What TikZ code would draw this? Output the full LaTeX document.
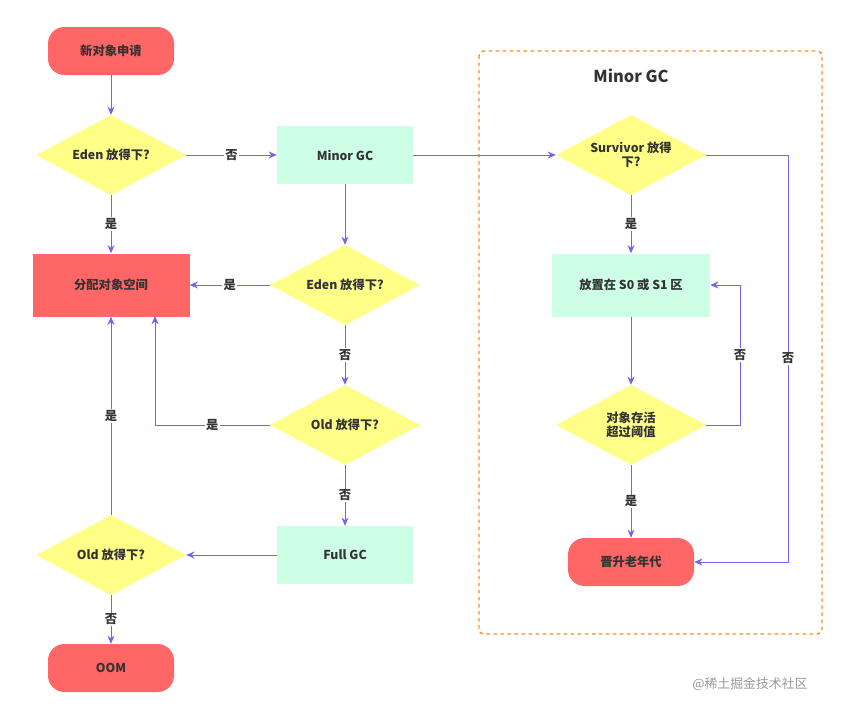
\documentclass[tikz,border=0pt]{standalone}
\usepackage{fontspec}
\setmainfont{Noto Sans CJK SC}
\usetikzlibrary{shapes.geometric, arrows.meta, positioning}

\definecolor{redbox}{HTML}{FF6666}
\definecolor{mint}{HTML}{CCFFE6}
\definecolor{yell}{HTML}{FFFF88}
\definecolor{arr}{HTML}{6E66F0}
\definecolor{orng}{HTML}{FF8C1A}

\tikzset{
    startbox/.style={rectangle, rounded corners=14pt, fill=redbox, minimum width=126*0.03cm, minimum height=48*0.03cm},
    allocbox/.style={rectangle, fill=redbox, minimum width=157*0.03cm, minimum height=63*0.03cm},
    gcbox/.style={rectangle, fill=mint, minimum width=136*0.03cm, minimum height=58*0.03cm},
    askbox/.style={diamond, fill=yell, aspect=1.875, minimum width=150*0.03cm, minimum height=80*0.03cm, inner sep=0pt, align=center},
    flow/.style={draw=arr, thick, -{Stealth[length=7pt,width=6pt]}},
    lab/.style={fill=white, inner sep=1pt}
}

\begin{document}
\begin{tikzpicture}[x=0.03cm, y=-0.03cm, font=\fontsize{10.5}{12}\selectfont\bfseries, text=black!80]
        \useasboundingbox (0,0) rectangle (848,714);

        % left column
        \node[startbox] (start) at (111,51) {新对象申请};
        \node[askbox] (eden) at (111,155) {Eden 放得下?};
        \node[gcbox] (minor) at (345,155) {Minor GC};
        \node[allocbox] (alloc) at (111,285) {分配对象空间};
        \node[askbox] (edenb) at (345,285) {Eden 放得下?};
        \node[askbox] (old) at (345,425) {Old 放得下?};
        \node[gcbox] (full) at (345,555) {Full GC};
        \node[askbox] (oldb) at (111,555) {Old 放得下?};
        \node[startbox] (oom) at (111,668) {OOM};

        % minor gc frame
        \draw[orng, very thick, dashed, rounded corners=4pt] (479,51) rectangle (822,634);
        \node[font=\fontsize{14}{16}\selectfont\bfseries] (title) at (631,76) {Minor GC};
        \node[askbox] (surv) at (631,155) {Survivor 放得\\下?};
        \node[gcbox, minimum width=158*0.03cm, minimum height=63*0.03cm] (place) at (631,285) {放置在 S0 或 S1 区};
        \node[askbox] (age) at (631,425) {对象存活\\超过阈值};
        \node[startbox] (promo) at (631,562) {晋升老年代};

        \coordinate (oldturn) at (155,425);
        \coordinate (alloctwo) at (155,316);
        \coordinate (survturn) at (788,155);
        \coordinate (survdown) at (788,562);
        \coordinate (ageturn) at (740,425);
        \coordinate (ageup) at (740,285);

        \draw[flow] (start) -- (eden);
        \draw[flow] (eden) -- node[lab] {否} (minor);
        \draw[flow] (eden) -- node[lab] {是} (alloc);
        \draw[flow] (minor) -- (edenb);
        \draw[flow] (edenb) -- node[lab] {是} (alloc);
        \draw[flow] (edenb) -- node[lab] {否} (old);
        \draw[flow] (old.west) -- node[lab] {是} (oldturn) -- (alloctwo);
        \draw[flow] (old) -- node[lab] {否} (full);
        \draw[flow] (full) -- (oldb);
        \draw[flow] (oldb) -- node[lab] {是} (alloc);
        \draw[flow] (oldb) -- node[lab] {否} (oom);
        \draw[flow] (minor) -- (surv);
        \draw[flow] (surv) -- node[lab] {是} (place);
        \draw[flow] (surv.east) -- (survturn) -- node[lab] {否} (survdown) -- (promo);
        \draw[flow] (place) -- (age);
        \draw[flow] (age.east) -- (ageturn) -- node[lab] {否} (ageup) -- (place);
        \draw[flow] (age) -- node[lab] {是} (promo);

        \node[text=black!40, font=\fontsize{11}{12}\selectfont] (mark) at (750,684) {@稀土掘金技术社区};
\end{tikzpicture}
\end{document}
